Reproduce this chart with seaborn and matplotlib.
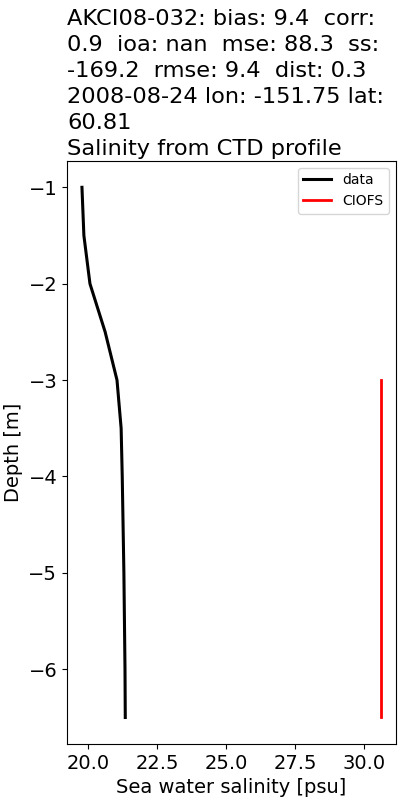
import numpy as np
import pandas as pd
import matplotlib
matplotlib.use("Agg")
import matplotlib.pyplot as plt
import seaborn as sns

# CTD profile (data) and model (CIOFS) salinity vs depth
data_depth = [-1.0, -1.5, -2.0, -2.5, -3.0, -3.5, -4.0, -4.5, -5.0, -5.5, -6.0, -6.5]
data_sal = [19.78, 19.85, 20.07, 20.62, 21.05, 21.2, 21.24, 21.27, 21.3, 21.32, 21.34, 21.35]

model_depth = [-3.0, -3.5, -4.0, -4.5, -5.0, -5.5, -6.0, -6.5]
model_sal = [30.62, 30.62, 30.62, 30.62, 30.62, 30.62, 30.62, 30.62]

title = ("AKCI08-032: bias: 9.4  corr:\n0.9  ioa: nan  mse: 88.3  ss:\n"
         "-169.2  rmse: 9.4  dist: 0.3\n2008-08-24 lon: -151.75 lat:\n60.81\n"
         "Salinity from CTD profile")

df_data = pd.DataFrame({"depth": data_depth, "sal": data_sal})
df_model = pd.DataFrame({"depth": model_depth, "sal": model_sal})

fig = plt.figure(figsize=(4, 8), dpi=100)
ax = fig.add_axes([0.1675, 0.07, 0.8225, 0.729])

sns.lineplot(data=df_data, x="sal", y="depth", sort=False, estimator=None,
             color="black", linewidth=2.2, label="data", ax=ax)
sns.lineplot(data=df_model, x="sal", y="depth", sort=False, estimator=None,
             color="red", linewidth=2, label="CIOFS", ax=ax)

ax.set_title(title, loc="left", fontsize=16.2, pad=4, linespacing=1.38)
ax.set_xlabel("Sea water salinity [psu]", fontsize=14)
ax.set_ylabel("Depth [m]", fontsize=14)
ax.tick_params(labelsize=14)
ax.set_xticks([20.0, 22.5, 25.0, 27.5, 30.0])
ax.legend(loc="upper right", fontsize=10)

fig.savefig("out.png", dpi=100)
